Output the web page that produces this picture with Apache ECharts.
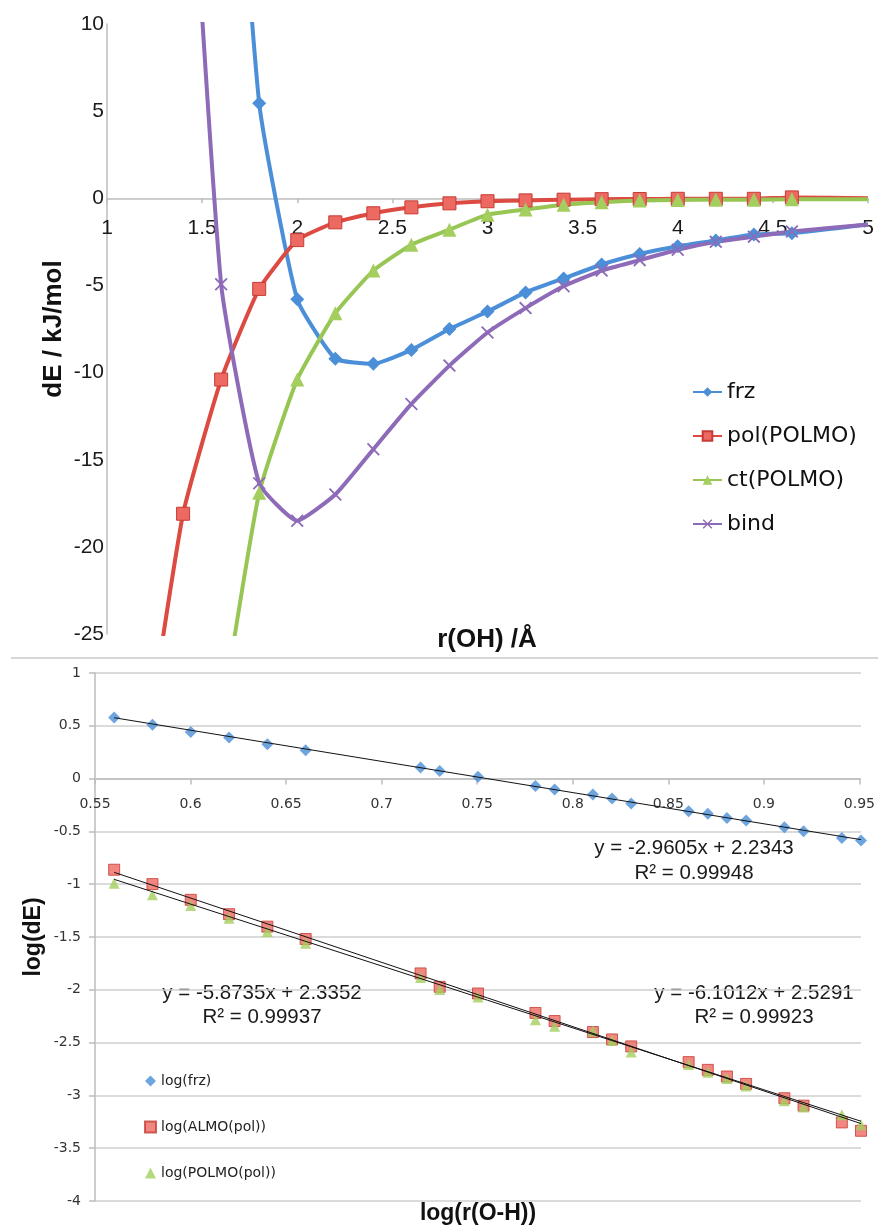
<!DOCTYPE html>
<html><head><meta charset="utf-8">
<script src="https://cdn.jsdelivr.net/npm/echarts@6/dist/echarts.min.js"></script>
<style>html,body{margin:0;padding:0;background:#fff}#c{width:878px;height:1228px}</style>
</head><body><div id="c"></div><script>
// ---------- Top chart data: dE (kJ/mol) vs r(OH) (Å) ----------
const rOH      = [1.2, 1.4, 1.6, 1.8, 2.0, 2.2, 2.4, 2.6, 2.8, 3.0, 3.2, 3.4, 3.6, 3.8, 4.0, 4.2, 4.4, 4.6, 5.0];
const frzE     = [null, null, 35, 5.45, -5.8, -9.2, -9.5, -8.7, -7.5, -6.5, -5.4, -4.6, -3.8, -3.2, -2.75, -2.42, -2.08, -2.0, -1.5];
const polE     = [-32, -18.1, -10.4, -5.2, -2.4, -1.38, -0.86, -0.52, -0.29, -0.17, -0.12, -0.08, -0.05, -0.04, -0.03, -0.03, -0.03, 0.05, 0.0];
const ctE      = [null, null, -30, -16.9, -10.4, -6.6, -4.15, -2.66, -1.8, -0.94, -0.64, -0.37, -0.23, -0.13, -0.1, -0.08, -0.08, -0.05, -0.05];
const bindE    = [null, 28, -4.93, -16.35, -18.5, -17.0, -14.4, -11.8, -9.6, -7.7, -6.3, -5.05, -4.15, -3.55, -2.95, -2.5, -2.2, -1.9, -1.5];
const topNames = ['frz', 'pol(POLMO)', 'ct(POLMO)', 'bind'];
const topX = { min: 1, max: 5, step: 0.5 };
const topY = { min: -25, max: 10, step: 5 };

// ---------- Bottom chart data: log(dE) vs log(r(O-H)) ----------
const logR     = [0.56, 0.58, 0.60, 0.62, 0.64, 0.66, 0.72, 0.73, 0.75, 0.78, 0.79, 0.81, 0.82, 0.83, 0.86, 0.87, 0.88, 0.89, 0.91, 0.92, 0.94, 0.95];
const logFrz   = [0.579, 0.509, 0.442, 0.389, 0.325, 0.268, 0.104, 0.071, 0.018, -0.071, -0.103, -0.150, -0.188, -0.236, -0.309, -0.334, -0.372, -0.397, -0.461, -0.499, -0.562, -0.587];
const logAlmo  = [-0.863, -0.999, -1.148, -1.284, -1.402, -1.519, -1.845, -1.972, -2.035, -2.219, -2.296, -2.400, -2.470, -2.536, -2.685, -2.758, -2.821, -2.891, -3.027, -3.097, -3.256, -3.335];
const logPolmo = [-0.990, -1.101, -1.202, -1.322, -1.449, -1.560, -1.883, -1.997, -2.067, -2.283, -2.346, -2.390, -2.480, -2.590, -2.707, -2.780, -2.840, -2.910, -3.050, -3.110, -3.183, -3.278];
const botNames = ['log(frz)', 'log(ALMO(pol))', 'log(POLMO(pol))'];
const botX = { min: 0.55, max: 0.95, step: 0.05 };
const botY = { min: -4, max: 1, step: 0.5 };
// trendline coefficients as labelled on the chart (frz, ALMO, POLMO)
const fitSlope     = [-2.9605, -6.1012, -5.8735];
const fitIntercept = [2.2343, 2.5291, 2.3352];
const fitR2        = ['0.99948', '0.99923', '0.99937'];

// ---------- helpers ----------
function pairs(xs, ys, hideLast) {
  const out = [];
  xs.forEach((x, i) => {
    if (ys[i] === null) return;
    if (hideLast && i === xs.length - 1) out.push({ value: [x, ys[i]], symbol: 'none' });
    else out.push([x, ys[i]]);
  });
  return out;
}
const xMin = Math.min(...logR), xMax = Math.max(...logR);
function trend(k) {
  return [[xMin, fitSlope[k] * xMin + fitIntercept[k]], [xMax, fitSlope[k] * xMax + fitIntercept[k]]];
}
function eqText(k) {
  const s = fitSlope[k], b = fitIntercept[k];
  return 'y = ' + s.toFixed(4) + 'x ' + (b >= 0 ? '+ ' : '- ') + Math.abs(b).toFixed(4);
}

const C = {
  blue: '#4A8FD7', red: '#DC4A41', redFill: '#EC6A62', redBorder: '#C63B33',
  green: '#98C654', greenFill: '#A4CE5E', purple: '#8E6BB8'
};
const xMark = 'path://M1,0 L5,4 L9,0 L10,1 L6,5 L10,9 L9,10 L5,6 L1,10 L0,9 L4,5 L0,1 Z';
const axisGray = '#bdbdbd';

// layout (pixels)
const G0 = { left: 107, right: 10, top: 24, height: 610 };
const G1 = { left: 95, right: 17, top: 673, height: 528 };
// helper grids whose bottom edge sits on y = 0 of each chart (the crossing x axis)
const G0z = { left: G0.left, right: G0.right, top: G0.top, height: G0.height * topY.max / (topY.max - topY.min) };
const G1z = { left: G1.left, right: G1.right, top: G1.top, height: G1.height * botY.max / (botY.max - botY.min) };

const chart = echarts.init(document.getElementById('c'), null, { renderer: 'canvas' });

const topLineBase = { type: 'line', xAxisIndex: 0, yAxisIndex: 0, smooth: 0.15, clip: true, showAllSymbol: true, z: 3 };
const botScatterBase = { type: 'scatter', xAxisIndex: 1, yAxisIndex: 1, symbolSize: 11, z: 3 };
const nameFont = 'Liberation Sans';

chart.setOption({
  animation: false,
  backgroundColor: '#fff',
  grid: [G0, G1, G0z, G1z],
  xAxis: [
    { gridIndex: 0, type: 'value', min: topX.min, max: topX.max, interval: topX.step, show: false },
    { gridIndex: 1, type: 'value', min: botX.min, max: botX.max, interval: botX.step, show: false },
    {
      gridIndex: 2, type: 'value', min: topX.min, max: topX.max, interval: topX.step,
      axisLine: { onZero: false, lineStyle: { color: axisGray, width: 1.5 } },
      axisTick: { show: true, length: 5, lineStyle: { color: axisGray, width: 1.5 } },
      axisLabel: { margin: 19, fontSize: 21, color: '#1a1a1a', fontFamily: 'Liberation Sans' },
      splitLine: { show: false }
    },
    {
      gridIndex: 3, type: 'value', min: botX.min, max: botX.max, interval: botX.step,
      axisLine: { onZero: false, lineStyle: { color: axisGray, width: 1.5 } },
      axisTick: { show: true, length: 6, lineStyle: { color: axisGray, width: 1.5 } },
      axisLabel: { margin: 19, fontSize: 14, color: '#333', fontFamily: 'DejaVu Sans',
        formatter: v => String(+v.toFixed(2)) },
      splitLine: { show: false }
    }
  ],
  yAxis: [
    {
      gridIndex: 0, type: 'value', min: topY.min, max: topY.max, interval: topY.step,
      name: 'dE / kJ/mol', nameLocation: 'middle', nameGap: 40, nameRotate: 90, nameMoveOverlap: false,
      nameTextStyle: { fontSize: 26, fontWeight: 'bold', color: '#111', fontFamily: nameFont },
      axisLine: { show: true, onZero: false, lineStyle: { color: axisGray, width: 1.5 } },
      axisTick: { show: false },
      axisLabel: { margin: 3, fontSize: 21, color: '#1a1a1a', fontFamily: 'Liberation Sans' },
      splitLine: { show: false }
    },
    {
      gridIndex: 1, type: 'value', min: botY.min, max: botY.max, interval: botY.step,
      name: 'log(dE)', nameLocation: 'middle', nameGap: 50, nameRotate: 90, nameMoveOverlap: false,
      nameTextStyle: { fontSize: 23, fontWeight: 'bold', color: '#111', fontFamily: nameFont },
      axisLine: { show: true, onZero: false, lineStyle: { color: axisGray, width: 1.5 } },
      axisTick: { show: true, length: 6, lineStyle: { color: axisGray, width: 1.5 } },
      axisLabel: { margin: 14, fontSize: 14, color: '#333', fontFamily: 'DejaVu Sans' },
      splitLine: { show: true, lineStyle: { color: '#cfcfcf', width: 1.5 } }
    },
    { gridIndex: 2, type: 'value', min: 0, max: 1, show: false },
    { gridIndex: 3, type: 'value', min: 0, max: 1, show: false }
  ],
  legend: [
    {
      data: topNames, orient: 'vertical', left: 687, top: 376,
      itemWidth: 29, itemHeight: 12, itemGap: 22,
      textStyle: { fontSize: 22, color: '#111', fontFamily: 'DejaVu Sans' }
    },
    {
      data: botNames, orient: 'vertical', left: 139, top: 1069,
      itemWidth: 11, itemHeight: 11, itemGap: 32,
      textStyle: { fontSize: 14, color: '#222', fontFamily: 'DejaVu Sans' }
    }
  ],
  graphic: [
    { type: 'line', shape: { x1: 11, y1: 658, x2: 878, y2: 658 }, style: { stroke: '#c8c8c8', lineWidth: 1.5 } },
    { type: 'text', x: 487, y: 640, style: { text: 'r(OH) /Å', fontSize: 26, fontWeight: 'bold', fill: '#111',
        fontFamily: nameFont, textAlign: 'center', textVerticalAlign: 'middle' } },
    { type: 'text', x: 478, y: 1214, style: { text: 'log(r(O-H))', fontSize: 23, fontWeight: 'bold', fill: '#111',
        fontFamily: nameFont, textAlign: 'center', textVerticalAlign: 'middle' } },
    { type: 'text', x: 694, y: 848, style: { text: eqText(0), fontSize: 20.5, fill: '#1a1a1a', fontFamily: 'Liberation Sans', textAlign: 'center', textVerticalAlign: 'middle' } },
    { type: 'text', x: 694, y: 873, style: { text: 'R² = ' + fitR2[0], fontSize: 20.5, fill: '#1a1a1a', fontFamily: 'Liberation Sans', textAlign: 'center', textVerticalAlign: 'middle' } },
    { type: 'text', x: 754, y: 993, style: { text: eqText(1), fontSize: 20.5, fill: '#1a1a1a', fontFamily: 'Liberation Sans', textAlign: 'center', textVerticalAlign: 'middle' } },
    { type: 'text', x: 754, y: 1017, style: { text: 'R² = ' + fitR2[1], fontSize: 20.5, fill: '#1a1a1a', fontFamily: 'Liberation Sans', textAlign: 'center', textVerticalAlign: 'middle' } },
    { type: 'text', x: 262, y: 993, style: { text: eqText(2), fontSize: 20.5, fill: '#1a1a1a', fontFamily: 'Liberation Sans', textAlign: 'center', textVerticalAlign: 'middle' } },
    { type: 'text', x: 262, y: 1017, style: { text: 'R² = ' + fitR2[2], fontSize: 20.5, fill: '#1a1a1a', fontFamily: 'Liberation Sans', textAlign: 'center', textVerticalAlign: 'middle' } }
  ],
  series: [
    Object.assign({}, topLineBase, {
      name: topNames[0], data: pairs(rOH, frzE, true), symbol: 'diamond', symbolSize: 14,
      lineStyle: { color: C.blue, width: 4 }, itemStyle: { color: C.blue }
    }),
    Object.assign({}, topLineBase, {
      name: topNames[1], data: pairs(rOH, polE, true), symbol: 'rect', symbolSize: 13,
      lineStyle: { color: C.red, width: 4 }, itemStyle: { color: C.redFill, borderColor: C.redBorder, borderWidth: 1 }
    }),
    Object.assign({}, topLineBase, {
      name: topNames[2], data: pairs(rOH, ctE, true), symbol: 'triangle', symbolSize: 14,
      lineStyle: { color: C.green, width: 4 }, itemStyle: { color: C.greenFill }
    }),
    Object.assign({}, topLineBase, {
      name: topNames[3], data: pairs(rOH, bindE, true), symbol: xMark, symbolSize: 13,
      lineStyle: { color: C.purple, width: 4 }, itemStyle: { color: C.purple }
    }),
    Object.assign({}, botScatterBase, {
      name: botNames[0], data: pairs(logR, logFrz), symbol: 'diamond', symbolSize: 12,
      itemStyle: { color: C.blue }
    }),
    Object.assign({}, botScatterBase, {
      name: botNames[1], data: pairs(logR, logAlmo), symbol: 'rect',
      itemStyle: { color: C.redFill, borderColor: C.redBorder, borderWidth: 1 }
    }),
    Object.assign({}, botScatterBase, {
      name: botNames[2], data: pairs(logR, logPolmo), symbol: 'triangle',
      itemStyle: { color: C.greenFill }
    }),
    ...[0, 1, 2].map(k => ({
      type: 'line', xAxisIndex: 1, yAxisIndex: 1, data: trend(k), symbol: 'none', silent: true, z: 5,
      lineStyle: { color: '#111', width: 1 }
    }))
  ]
});
</script></body></html>
